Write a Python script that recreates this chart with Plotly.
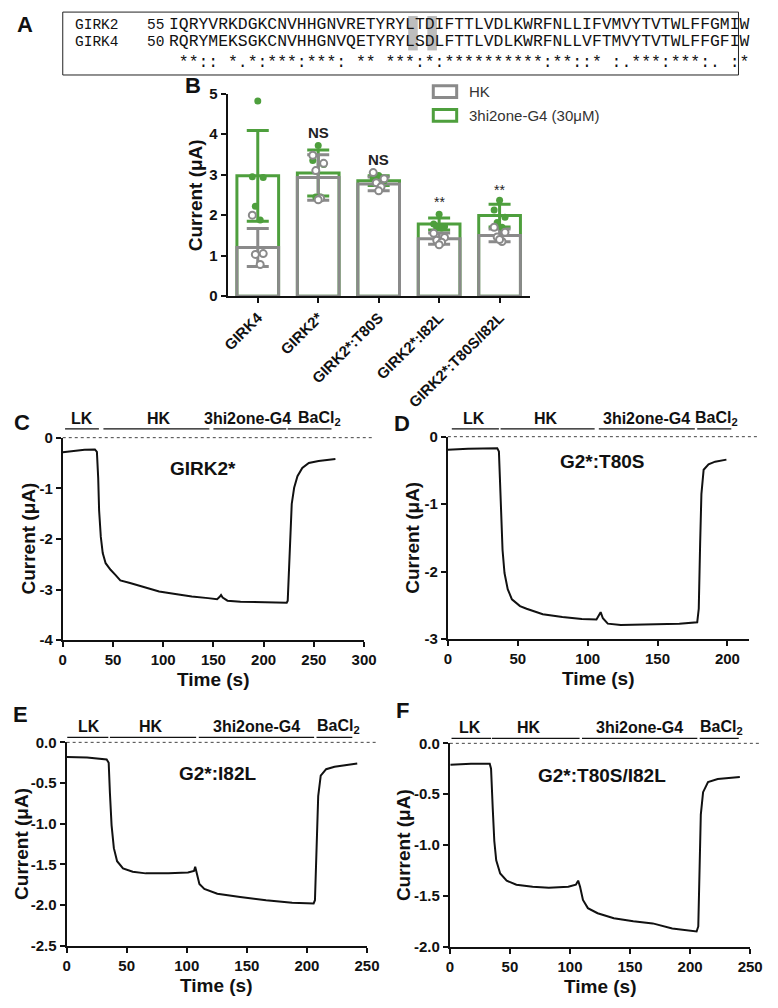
import plotly.graph_objects as go

# The page keeps the browser's default 8 px body margin, so the figure is drawn 16 px smaller
# and every reference pixel position is shifted by that margin.
PAGE_W, PAGE_H, M = 778, 1008, 8
W, H = PAGE_W - 2 * M, PAGE_H - 2 * M
def fx(x): return (x - M) / W
def fy(y): return 1 - (y - M) / H

FONT = "Liberation Sans, Arial, sans-serif"
MONO = "Liberation Mono, Courier New, monospace"
GRAY = "#8a8a8a"
GREEN = "#4e9f3d"
BLACK = "#111111"

# ---------------- Panel A data ----------------
seq_names = ["GIRK2", "GIRK4"]
seq_starts = ["55", "50"]
seqs = ["IQRYVRKDGKCNVHHGNVRETYRYLTDIFTTLVDLKWRFNLLIFVMVYTVTWLFFGMIW",
        "RQRYMEKSGKCNVHHGNVQETYRYLSDLFTTLVDLKWRFNLLVFTMVYTVTWLFFGFIW"]
conservation = " **:: *.*:***:***: ** ***:*:**********:**::* :.***:***:. :*"
highlight_positions = [26, 28]

# ---------------- Panel B data ----------------
categories = ["GIRK4", "GIRK2*", "GIRK2*:T80S", "GIRK2*:I82L", "GIRK2*:T80S/I82L"]
hk_mean = [1.20, 2.93, 2.77, 1.42, 1.50]
hk_sd = [0.47, 0.56, 0.17, 0.14, 0.16]
g4_mean = [2.97, 3.04, 2.85, 1.78, 1.99]
g4_sd = [1.12, 0.57, 0.12, 0.15, 0.28]
hk_points = [[2.00, 1.05, 1.03, 0.78],
             [3.48, 3.28, 3.10, 2.42, 2.38],
             [3.05, 2.90, 2.80, 2.70, 2.60],
             [1.55, 1.45, 1.38, 1.33, 1.27],
             [1.70, 1.58, 1.46, 1.35, 1.40]]
g4_points = [[4.82, 2.95, 2.93, 2.22, 1.88],
             [3.72, 3.35, 3.25, 2.45, 2.45],
             [2.98, 2.90, 2.85, 2.78, 2.72],
             [2.02, 1.78, 1.72, 1.70, 1.68],
             [2.37, 2.13, 1.95, 1.82, 1.70]]
sig_labels = ["*", "NS", "NS", "**", "**"]
sig_y = [5.1, 4.05, 3.38, 2.32, 2.63]
legend_labels = ["HK", "3hi2one-G4 (30μM)"]
y_ticks_B = [0, 1, 2, 3, 4, 5]

# ---------------- Panels C-F data (time s, current µA) ----------------
t_C = [0, 8.7, 21.7, 32, 34, 35.3, 36.2, 37.9, 39.8, 42.7, 47.6, 52.4, 57.3, 67, 80, 96, 112,
       128.5, 144.7, 153.7, 156, 157.6, 159.2, 164, 177, 203, 223, 224, 225.6, 226.5, 228,
       230.4, 233.7, 238.5, 245, 254.7, 271.5]
i_C = [-0.29, -0.265, -0.24, -0.233, -0.28, -0.80, -1.44, -1.96, -2.28, -2.48, -2.61, -2.71,
       -2.82, -2.87, -2.95, -3.04, -3.09, -3.14, -3.17, -3.19, -3.15, -3.11, -3.16, -3.22,
       -3.24, -3.25, -3.26, -3.22, -2.41, -1.77, -1.31, -0.99, -0.76, -0.60, -0.50, -0.46, -0.42]

t_D = [0, 14.4, 35.3, 36.5, 37.2, 38.1, 39.1, 40.5, 42.8, 45.8, 51.6, 56.3, 67.9, 81.9, 95.8,
       106.3, 107.9, 109.3, 110.9, 114.4, 123.7, 142.3, 165.6, 178.4, 179.5, 180.5, 181.4,
       183, 186.5, 191.2, 199.3]
i_D = [-0.195, -0.18, -0.17, -0.22, -0.61, -1.19, -1.68, -2.02, -2.26, -2.41, -2.51, -2.55,
       -2.63, -2.67, -2.70, -2.71, -2.66, -2.60, -2.69, -2.77, -2.79, -2.78, -2.77, -2.75,
       -2.55, -1.58, -0.85, -0.49, -0.41, -0.37, -0.34]

t_E = [0, 17, 33.3, 35, 36, 37.4, 39.3, 42, 46.9, 55, 65.8, 84.8, 101, 106, 107, 108.6,
       110.5, 114.6, 125.4, 144.4, 166, 187.7, 205.6, 206.7, 208, 209.4, 211.5, 216, 223, 241.9]
i_E = [-0.18, -0.185, -0.21, -0.25, -0.62, -1.02, -1.30, -1.46, -1.55, -1.59, -1.61, -1.61,
       -1.60, -1.58, -1.53, -1.62, -1.74, -1.80, -1.86, -1.90, -1.94, -1.97, -1.98, -1.94,
       -1.22, -0.66, -0.41, -0.33, -0.30, -0.26]

t_F = [0.5, 17.6, 33.2, 34.3, 35.7, 37, 38.6, 41.9, 47.3, 55.4, 68.9, 82.4, 98.6, 104.9,
       106.8, 108.4, 110.8, 114.9, 123, 136.5, 152.7, 168.9, 185.1, 205.4, 206.8, 207.8,
       208.9, 210.8, 214.9, 223, 241.4]
i_F = [-0.21, -0.20, -0.20, -0.25, -0.64, -0.96, -1.15, -1.28, -1.35, -1.39, -1.41, -1.42,
       -1.41, -1.39, -1.35, -1.41, -1.54, -1.62, -1.67, -1.72, -1.75, -1.77, -1.82, -1.85,
       -1.80, -1.12, -0.70, -0.48, -0.38, -0.35, -0.33]

solution_labels = ["LK", "HK", "3hi2one-G4", "BaCl<sub>2</sub>"]
sol_start_C = [2.3, 40.5, 150, 224]
sol_end_C = [36, 146, 222.5, 267.6]
sol_label_C = [19, 96, 183.5, 256]
sol_start_D = [2.8, 37.7, 108, 178.4]
sol_end_D = [36.5, 105, 176.7, 202.8]
sol_label_D = [19, 70, 142, 192]
sol_start_E = [0.5, 36, 110, 208]
sol_end_E = [34.7, 107.8, 206, 237.8]
sol_label_E = [18.4, 70, 158, 226]
sol_start_F = [1.4, 35, 110, 208]
sol_end_F = [34.3, 108, 206, 240.5]
sol_label_F = [16.5, 66, 158, 226]

xt_C = [0, 50, 100, 150, 200, 250, 300]
xt_D = [0, 50, 100, 150, 200]
xt_EF = [0, 50, 100, 150, 200, 250]
yt_C = [0, -1, -2, -3, -4]
yt_D = [0, -1, -2, -3]
yt_E = [0, -0.5, -1.0, -1.5, -2.0, -2.5]
yt_F = [0, -0.5, -1.0, -1.5, -2.0]

# ---------------- Figure ----------------
fig = go.Figure()
annotations = []
shapes = []

def txt(x, y, text, size, bold=True, color=BLACK, xanchor="center", yanchor="middle",
        family=FONT, angle=0, xref="paper", yref="paper"):
    annotations.append(dict(x=x, y=y, xref=xref, yref=yref, text=text, showarrow=False,
                            xanchor=xanchor, yanchor=yanchor, textangle=angle,
                            font=dict(family=family, size=size, color=color,
                                      weight="bold" if bold else "normal")))

# Panel A
shapes.append(dict(type="rect", xref="paper", yref="paper", x0=fx(58), x1=fx(751),
                   y0=fy(67), y1=fy(3), line=dict(color="#222", width=1)))
CW = 9.83
SEQ_X = 167
for p in highlight_positions:
    shapes.append(dict(type="rect", xref="paper", yref="paper", layer="below",
                       x0=fx(SEQ_X + (p - 1) * CW - 0.5), x1=fx(SEQ_X + p * CW - 0.5),
                       y0=fy(42), y1=fy(7), fillcolor="#bdbdbd", line=dict(width=0)))
row_y = [16, 33]
for name, st, s, yy in zip(seq_names, seq_starts, seqs, row_y):
    txt(fx(68), fy(yy), name, 14.5, bold=False, family=MONO, xanchor="left", color="#111")
    txt(fx(164), fy(yy), st, 14.5, bold=False, family=MONO, xanchor="right", color="#111")
    txt(fx(SEQ_X - 2), fy(yy), s, 16.4, bold=False, family=MONO, xanchor="left", color="#111")
txt(fx(SEQ_X - 2), fy(54), conservation.replace(" ", "&nbsp;"), 16.4, bold=False, family=MONO,
    xanchor="left", color="#111")

# Panel letters
for L, (x, y) in zip("ABCDEF", [(19, 16), (192, 78), (16, 421), (406, 422), (15, 718), (406, 714)]):
    txt(fx(x), fy(y), L, 22)

# Panel B traces
xi = list(range(len(categories)))
fig.add_trace(go.Bar(x=xi, y=g4_mean, width=0.69, xaxis="x", yaxis="y", showlegend=False,
                     marker=dict(color="rgba(0,0,0,0)", line=dict(color=GREEN, width=3)),
                     error_y=dict(type="data", array=g4_sd, color=GREEN, thickness=3, width=11)))
fig.add_trace(go.Bar(x=xi, y=hk_mean, width=0.69, xaxis="x", yaxis="y", showlegend=False,
                     marker=dict(color="rgba(0,0,0,0)", line=dict(color=GRAY, width=3)),
                     error_y=dict(type="data", array=hk_sd, color=GRAY, thickness=3, width=11)))
JIT = [0.0, -0.09, 0.09, -0.04, 0.04]
gx, gy, hx, hy = [], [], [], []
for i in xi:
    for k, v in enumerate(g4_points[i]):
        gx.append(i + JIT[k]); gy.append(v)
    for k, v in enumerate(hk_points[i]):
        hx.append(i + JIT[(k + 1) % 5]); hy.append(v)
fig.add_trace(go.Scatter(x=gx, y=gy, mode="markers", xaxis="x", yaxis="y", showlegend=False,
                         marker=dict(color=GREEN, size=7, line=dict(width=0))))
fig.add_trace(go.Scatter(x=hx, y=hy, mode="markers", xaxis="x", yaxis="y", showlegend=False,
                         marker=dict(color="white", size=7, line=dict(color=GRAY, width=2))))
for i, (lab, yv) in enumerate(zip(sig_labels, sig_y)):
    bold = lab == "NS"
    annotations.append(dict(x=i, y=yv, xref="x", yref="y", text=lab, showarrow=False,
                            xanchor="center", yanchor="middle",
                            font=dict(family=FONT, size=15 if bold else 14, color="#222",
                                      weight="bold" if bold else "normal")))
# legend
for (y0, y1, col, lab) in [(78, 90, GRAY, legend_labels[0]), (102, 114, GREEN, legend_labels[1])]:
    shapes.append(dict(type="rect", xref="paper", yref="paper", x0=fx(438), x1=fx(462),
                       y0=fy(y1), y1=fy(y0), line=dict(color=col, width=3)))
    txt(fx(473), fy((y0 + y1) / 2), lab, 15, bold=False, xanchor="left", color="#333")
txt(fx(195), fy(189), "Current (μA)", 19, angle=-90)

axis_common = dict(showline=True, linecolor=BLACK, linewidth=2, ticks="outside", ticklen=5,
                   tickwidth=2, tickcolor=BLACK, showgrid=False, zeroline=False,
                   tickfont=dict(family=FONT, size=15, color=BLACK, weight="bold"))

layout_axes = {}
layout_axes["xaxis"] = dict(axis_common, domain=[fx(227), fx(537)], range=[-0.5, 4.5],
                            anchor="y", tickvals=xi, ticktext=categories, tickangle=-45,
                            tickfont=dict(family=FONT, size=15, color=BLACK, weight="bold"))
layout_axes["yaxis"] = dict(axis_common, domain=[fy(292), fy(86)], range=[0, 5], anchor="x",
                            tickvals=y_ticks_B, ticktext=[str(v) for v in y_ticks_B])

# Panels C-F
panels = [
    ("2", t_C, i_C, [58, 367, 436, 642], [0, 300], [-4, 0], xt_C, yt_C, "{:d}",
     sol_start_C, sol_end_C, sol_label_C, "GIRK2*", (202, 467), 9, 23),
    ("3", t_D, i_D, [453, 762, 435, 641], [0, 215.6], [-3, 0], xt_D, yt_D, "{:d}",
     sol_start_D, sol_end_D, sol_label_D, "G2*:T80S", (611, 460), 8, 417),
    ("4", t_E, i_E, [62, 370, 746, 953], [0, 250], [-2.5, 0], xt_EF, yt_E, "{:.1f}",
     sol_start_E, sol_end_E, sol_label_E, "G2*:I82L", (217, 778), 5, 15),
    ("5", t_F, i_F, [455, 763, 747, 954], [0, 250], [-2.0, 0], xt_EF, yt_F, "{:.1f}",
     sol_start_F, sol_end_F, sol_label_F, "G2*:T80S/I82L", (611, 780), 5, 407),
]
for (n, tt, ii, box, xr, yr, xt, yt, fmt, s0, s1, sl, title, tpos, off, ytx) in panels:
    xa, ya = "x" + n, "y" + n
    fig.add_trace(go.Scatter(x=tt, y=ii, mode="lines", xaxis=xa, yaxis=ya, showlegend=False,
                             line=dict(color=BLACK, width=2)))
    x0, x1, y0, y1 = box
    layout_axes["xaxis" + n] = dict(axis_common, domain=[fx(x0), fx(x1)], range=xr, anchor=ya,
                                    tickvals=xt, ticktext=[str(v) for v in xt])
    layout_axes["yaxis" + n] = dict(axis_common, domain=[fy(y1), fy(y0)], range=yr, anchor=xa,
                                    tickvals=yt,
                                    ticktext=[fmt.format(int(v) if fmt == "{:d}" else v) for v in yt])
    ph = y1 - y0
    shapes.append(dict(type="line", xref=xa + " domain", yref=ya + " domain", x0=0, x1=1.03,
                       y0=1, y1=1, line=dict(color="#444", width=1, dash="dot")))
    span = xr[1] - xr[0]
    for a, b, c, lab in zip(s0, s1, sl, solution_labels):
        ly = 1 + off / ph
        shapes.append(dict(type="line", xref=xa + " domain", yref=ya + " domain",
                           x0=(a - xr[0]) / span, x1=(b - xr[0]) / span, y0=ly, y1=ly,
                           line=dict(color=BLACK, width=1.2)))
        annotations.append(dict(x=(c - xr[0]) / span, y=1 + (off + 11) / ph,
                                xref=xa + " domain", yref=ya + " domain", text=lab,
                                showarrow=False, xanchor="center", yanchor="middle",
                                font=dict(family=FONT, size=16, color=BLACK, weight="bold")))
    txt(fx(tpos[0]), fy(tpos[1]), title, 19)
    txt(fx(ytx), fy((y0 + y1) / 2), "Current (μA)", 19, angle=-90)
    txt(fx((x0 + x1) / 2), fy(y1 + 40), "Time (s)", 19)

fig.update_layout(width=W, height=H, autosize=False, margin=dict(l=0, r=0, t=0, b=0),
                  paper_bgcolor="white", plot_bgcolor="white", barmode="overlay",
                  annotations=annotations, shapes=shapes, showlegend=False,
                  font=dict(family=FONT), **layout_axes)

fig.write_html("out.html", config={"displayModeBar": False})
